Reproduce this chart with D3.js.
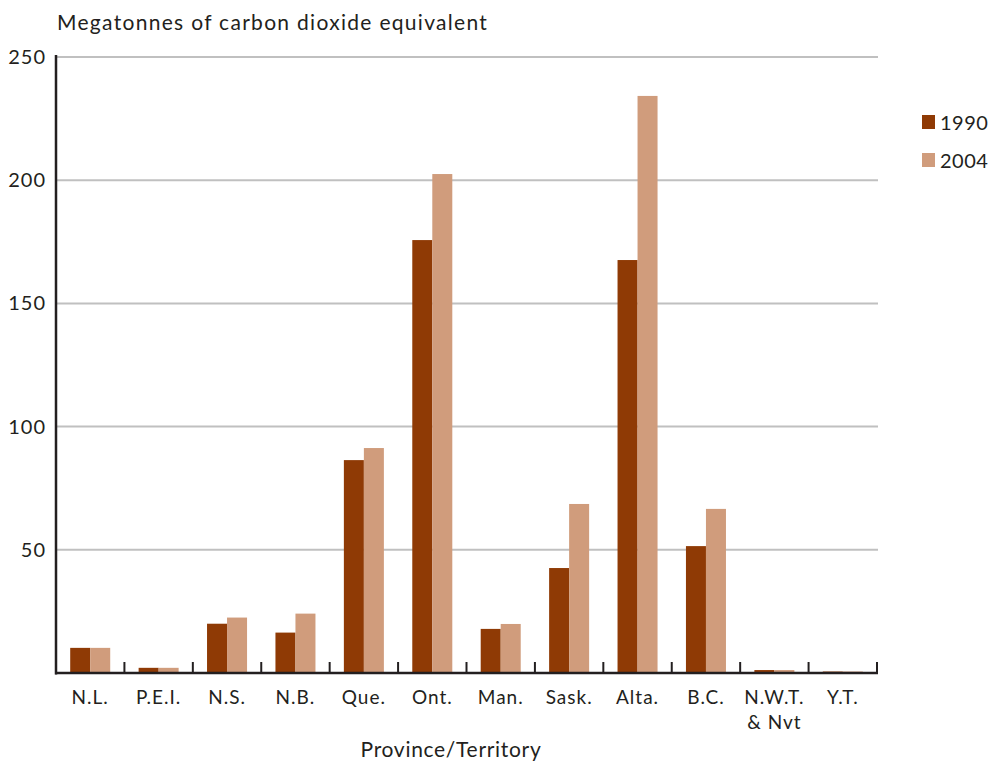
<!DOCTYPE html>
<html>
<head>
<meta charset="utf-8">
<script src="https://cdn.jsdelivr.net/npm/d3@7/dist/d3.min.js"></script>
<style>
  html, body { margin: 0; padding: 0; background: #fff; }
  svg text { font-family: "Lato", "DejaVu Sans", sans-serif; fill: #231f20; }
</style>
</head>
<body>
<svg id="chart" width="990" height="763"></svg>
<script>
const categories = ["N.L.", "P.E.I.", "N.S.", "N.B.", "Que.", "Ont.", "Man.", "Sask.", "Alta.", "B.C.", "N.W.T.\n& Nvt", "Y.T."];
const seriesNames = ["1990", "2004"];
const values1990 = [10.2, 2.1, 20.0, 16.4, 86.4, 175.7, 17.9, 42.6, 167.6, 51.5, 1.2, 0.6];
const values2004 = [10.2, 2.1, 22.5, 24.1, 91.3, 202.5, 19.9, 68.6, 234.2, 66.6, 1.2, 0.6];
const yTicks = [50, 100, 150, 200, 250];
const colors = ["#8f3a05", "#d09c7c"];

const svg = d3.select("#chart");
const plotLeft = 56, plotRight = 877, plotTop = 57, plotBottom = 673;

const x = d3.scaleBand().domain(categories).range([plotLeft, plotRight]).paddingInner(0).paddingOuter(0);
const xInner = d3.scaleBand().domain(seriesNames).range([0, x.bandwidth()]).paddingInner(0).paddingOuter(0.71);
const y = d3.scaleLinear().domain([0, 250]).range([plotBottom, plotTop]);

// grid
svg.append("g").selectAll("line").data(yTicks).join("line")
  .attr("x1", plotLeft).attr("x2", plotRight + 1)
  .attr("y1", d => y(d)).attr("y2", d => y(d))
  .attr("stroke", "#c0c0c0").attr("stroke-width", 2);

// y labels
svg.append("g").selectAll("text").data(yTicks).join("text")
  .attr("x", 46).attr("y", d => y(d)).attr("dy", "0.35em")
  .attr("text-anchor", "end").attr("font-size", 20).attr("letter-spacing", 1).text(d => d);

// bars
const data = categories.map((c, i) => ({ c, vals: [values1990[i], values2004[i]] }));
const groups = svg.append("g").selectAll("g").data(data).join("g")
  .attr("transform", d => `translate(${x(d.c)},0)`);
groups.selectAll("rect").data(d => d.vals.map((v, j) => ({ s: seriesNames[j], v, j }))).join("rect")
  .attr("x", d => xInner(d.s)).attr("width", xInner.bandwidth())
  .attr("y", d => y(d.v)).attr("height", d => y(0) - y(d.v))
  .attr("fill", d => colors[d.j]);

// axes
svg.append("line").attr("x1", plotLeft).attr("x2", plotLeft).attr("y1", plotTop - 2).attr("y2", plotBottom + 1.5)
  .attr("stroke", "#231f20").attr("stroke-width", 2.5);
svg.append("line").attr("x1", plotLeft - 1).attr("x2", plotRight + 1).attr("y1", plotBottom).attr("y2", plotBottom)
  .attr("stroke", "#231f20").attr("stroke-width", 2.5);
// category ticks
const bounds = categories.slice(1).map(c => x(c)).concat([plotRight]);
svg.append("g").selectAll("line").data(bounds).join("line")
  .attr("x1", d => d).attr("x2", d => d).attr("y1", plotBottom - 11).attr("y2", plotBottom)
  .attr("stroke", "#231f20").attr("stroke-width", 2);

// x labels
svg.append("g").selectAll("text").data(categories).join("text")
  .attr("text-anchor", "middle").attr("font-size", 19).attr("letter-spacing", 1)
  .attr("transform", d => `translate(${x(d) + x.bandwidth() / 2},704)`)
  .each(function(d) {
    const lines = d.split("\n");
    d3.select(this).selectAll("tspan").data(lines).join("tspan")
      .attr("x", 0).attr("y", (l, i) => i * 25).text(l => l);
  });

// titles
svg.append("text").attr("x", 57).attr("y", 30).attr("font-size", 21).attr("letter-spacing", 1.3)
  .text("Megatonnes of carbon dioxide equivalent");
svg.append("text").attr("x", 451).attr("y", 757).attr("text-anchor", "middle").attr("font-size", 21).attr("letter-spacing", 0.7)
  .text("Province/Territory");

// legend
const legend = svg.append("g").selectAll("g").data(seriesNames).join("g")
  .attr("transform", (d, i) => `translate(922,${115 + i * 38})`);
legend.append("rect").attr("width", 13).attr("height", 14).attr("fill", (d, i) => colors[i]);
legend.append("text").attr("x", 18).attr("y", 14.5).attr("font-size", 20).attr("letter-spacing", 0.5).text(d => d);
</script>
</body>
</html>
